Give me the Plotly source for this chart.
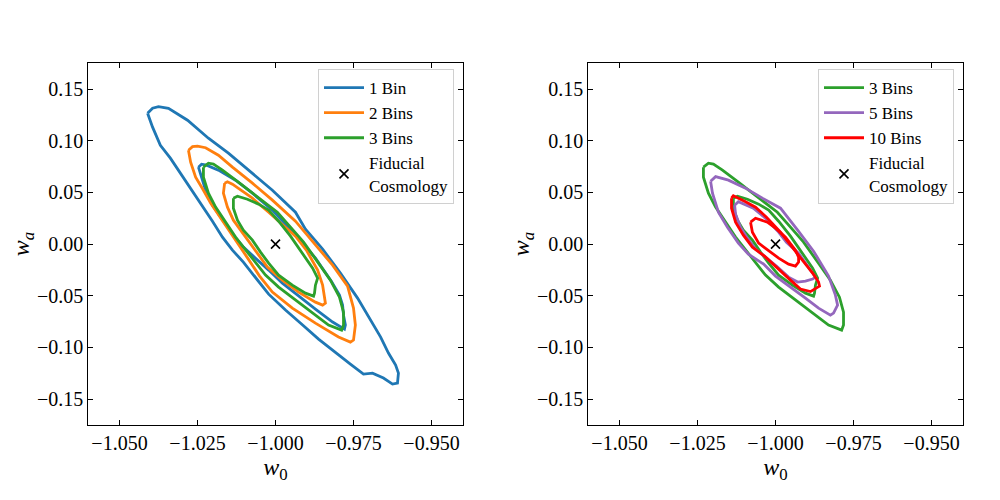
import plotly.graph_objects as go

# ---------------- data (w0, wa) ----------------
# Left panel
bin1_outer_w0 = [-1.0410, -1.0394, -1.0375, -1.0343, -1.0282, -1.0215, -1.0151, -1.0074, -1.0010, -0.9936,
                 -0.9904, -0.9849, -0.9792, -0.9737, -0.9699, -0.9663, -0.9638, -0.9615, -0.9606, -0.9609,
                 -0.9625, -0.9654, -0.9689, -0.9718, -0.9760, -0.9814, -0.9862, -0.9913, -0.9968, -1.0022,
                 -1.0064, -1.0103, -1.0138, -1.0170, -1.0202, -1.0247, -1.0285, -1.0311, -1.0337, -1.0369,
                 -1.0394]
bin1_outer_wa = [0.1267, 0.1315, 0.1330, 0.1315, 0.1199, 0.1025, 0.0880, 0.0687, 0.0522, 0.0309,
                 0.0145, -0.0048, -0.0280, -0.0522, -0.0716, -0.0899, -0.1054, -0.1170, -0.1248, -0.1344,
                 -0.1354, -0.1296, -0.1248, -0.1257, -0.1161, -0.1035, -0.0919, -0.0783, -0.0638, -0.0484,
                 -0.0319, -0.0174, -0.0058, 0.0068, 0.0222, 0.0426, 0.0600, 0.0716, 0.0832, 0.0957,
                 0.1132]

bin1_inner_w0 = [-1.0247, -1.0237, -1.0221, -1.0183, -1.0128, -1.0074, -1.0010, -0.9965, -0.9923, -0.9872,
                 -0.9821, -0.9795, -0.9785, -0.9782, -0.9776, -0.9779, -0.9817, -0.9872, -0.9926, -0.9978,
                 -1.0022, -1.0064, -1.0103, -1.0138, -1.0170, -1.0202, -1.0224, -1.0240]
bin1_inner_wa = [0.0745, 0.0774, 0.0764, 0.0716, 0.0619, 0.0493, 0.0329, 0.0184, 0.0048, -0.0135,
                 -0.0358, -0.0493, -0.0590, -0.0687, -0.0783, -0.0822, -0.0754, -0.0629, -0.0503, -0.0377,
                 -0.0251, -0.0135, -0.0029, 0.0097, 0.0232, 0.0377, 0.0522, 0.0677]

bin2_outer_w0 = [-1.0279, -1.0266, -1.0250, -1.0224, -1.0183, -1.0138, -1.0074, -1.0010, -0.9936, -0.9872,
                 -0.9817, -0.9769, -0.9750, -0.9744, -0.9750, -0.9760, -0.9798, -0.9872, -0.9946, -1.0010,
                 -1.0051, -1.0087, -1.0119, -1.0151, -1.0183, -1.0208, -1.0231, -1.0256, -1.0272]
bin2_outer_wa = [0.0909, 0.0943, 0.0948, 0.0933, 0.0861, 0.0745, 0.0590, 0.0426, 0.0222, -0.0010,
                 -0.0203, -0.0406, -0.0619, -0.0783, -0.0928, -0.0948, -0.0899, -0.0764, -0.0619, -0.0464,
                 -0.0309, -0.0145, 0.0000, 0.0135, 0.0280, 0.0397, 0.0522, 0.0648, 0.0793]

bin2_inner_w0 = [-1.0163, -1.0154, -1.0138, -1.0106, -1.0074, -1.0022, -0.9968, -0.9936, -0.9901, -0.9865,
                 -0.9849, -0.9840, -0.9849, -0.9872, -0.9926, -0.9978, -1.0026, -1.0054, -1.0080, -1.0106,
                 -1.0135, -1.0154, -1.0167]
bin2_inner_wa = [0.0590, 0.0604, 0.0580, 0.0513, 0.0445, 0.0309, 0.0164, 0.0077, -0.0058, -0.0251,
                 -0.0397, -0.0571, -0.0590, -0.0561, -0.0464, -0.0348, -0.0222, -0.0106, 0.0010, 0.0116,
                 0.0232, 0.0358, 0.0493]

# 3 bins (shared by both panels)
bin3_outer_w0 = [-1.0231, -1.0215, -1.0199, -1.0170, -1.0119, -1.0064, -0.9994, -0.9952, -0.9910, -0.9869,
                 -0.9824, -0.9795, -0.9782, -0.9782, -0.9788, -0.9830, -0.9881, -0.9936, -0.9990, -1.0032,
                 -1.0064, -1.0096, -1.0128, -1.0160, -1.0192, -1.0215, -1.0231]
bin3_outer_wa = [0.0745, 0.0783, 0.0774, 0.0716, 0.0600, 0.0474, 0.0309, 0.0164, 0.0019, -0.0155,
                 -0.0348, -0.0513, -0.0658, -0.0783, -0.0832, -0.0783, -0.0667, -0.0542, -0.0416, -0.0300,
                 -0.0174, -0.0048, 0.0068, 0.0213, 0.0358, 0.0493, 0.0648]

bin3_inner_w0 = [-1.0135, -1.0122, -1.0090, -1.0054, -1.0022, -0.9990, -0.9952, -0.9913, -0.9881, -0.9865,
                 -0.9872, -0.9875, -0.9878, -0.9904, -0.9946, -0.9990, -1.0022, -1.0048, -1.0074, -1.0103,
                 -1.0122, -1.0135]
bin3_inner_wa = [0.0445, 0.0464, 0.0435, 0.0387, 0.0329, 0.0222, 0.0077, -0.0097, -0.0232, -0.0329,
                 -0.0397, -0.0474, -0.0503, -0.0474, -0.0397, -0.0300, -0.0184, -0.0077, 0.0039, 0.0135,
                 0.0232, 0.0348]

# Right panel
bin5_outer_w0 = [-1.0208, -1.0192, -1.0151, -1.0096, -1.0042, -0.9984, -0.9929, -0.9878, -0.9830, -0.9808,
                 -0.9801, -0.9814, -0.9824, -0.9862, -0.9904, -0.9952, -1.0000, -1.0038, -1.0087, -1.0119,
                 -1.0154, -1.0183, -1.0202]
bin5_outer_wa = [0.0609, 0.0653, 0.0619, 0.0542, 0.0445, 0.0348, 0.0135, -0.0068, -0.0309, -0.0493,
                 -0.0590, -0.0667, -0.0687, -0.0619, -0.0522, -0.0416, -0.0309, -0.0193, -0.0097, 0.0010,
                 0.0164, 0.0309, 0.0493]

bin5_inner_w0 = [-1.0131, -1.0119, -1.0071, -1.0032, -0.9990, -0.9965, -0.9926, -0.9894, -0.9872, -0.9881,
                 -0.9904, -0.9929, -0.9958, -0.9997, -1.0032, -1.0064, -1.0090, -1.0112, -1.0128]
bin5_inner_wa = [0.0377, 0.0411, 0.0348, 0.0251, 0.0116, 0.0019, -0.0087, -0.0232, -0.0319, -0.0338,
                 -0.0358, -0.0367, -0.0319, -0.0213, -0.0126, -0.0048, 0.0058, 0.0164, 0.0290]

bin10_outer_w0 = [-1.0141, -1.0135, -1.0096, -1.0064, -1.0029, -0.9984, -0.9929, -0.9881, -0.9862, -0.9859,
                  -0.9888, -0.9920, -0.9952, -0.9990, -1.0035, -1.0074, -1.0103, -1.0128, -1.0141]
bin10_outer_wa = [0.0445, 0.0469, 0.0411, 0.0358, 0.0261, 0.0116, -0.0097, -0.0280, -0.0367, -0.0406,
                  -0.0459, -0.0435, -0.0348, -0.0242, -0.0116, -0.0029, 0.0087, 0.0213, 0.0348]

bin10_inner_w0 = [-1.0080, -1.0064, -1.0026, -1.0000, -0.9968, -0.9936, -0.9926, -0.9926, -0.9936, -0.9958,
                  -0.9990, -1.0022, -1.0054, -1.0074]
bin10_inner_wa = [0.0213, 0.0251, 0.0213, 0.0155, 0.0068, -0.0058, -0.0126, -0.0174, -0.0213, -0.0193,
                  -0.0135, -0.0058, 0.0010, 0.0116]

fiducial_w0 = [-1.0]
fiducial_wa = [0.0]

x_ticks = [-1.05, -1.025, -1.0, -0.975, -0.95]
y_ticks = [-0.15, -0.10, -0.05, 0.0, 0.05, 0.10, 0.15]

# ---------------- figure ----------------
FONT = "Liberation Serif"
BLUE, ORANGE, GREEN, PURPLE, RED = "#1f77b4", "#ff7f0e", "#2ca02c", "#9467bd", "#ff0000"
LW = 2.8

fig = go.Figure()


def add_contour(w0, wa, color, name, ax, legend, show):
    fig.add_trace(go.Scatter(
        x=list(w0) + [w0[0]], y=list(wa) + [wa[0]], mode="lines",
        line=dict(color=color, width=LW), name=name, legendgroup=legend + name,
        showlegend=show, legend=legend, xaxis="x" + ax, yaxis="y" + ax,
        hoverinfo="skip"))


def add_fid(ax, legend):
    fig.add_trace(go.Scatter(
        x=fiducial_w0, y=fiducial_wa, mode="markers", name="Fiducial<br>Cosmology",
        legendgroup=legend + "fid",
        marker=dict(symbol="x-thin", size=9, color="black", line=dict(width=1.6, color="black")),
        legend=legend, xaxis="x" + ax, yaxis="y" + ax))


# left panel
add_contour(bin1_outer_w0, bin1_outer_wa, BLUE, "1 Bin", "", "legend", True)
add_contour(bin1_inner_w0, bin1_inner_wa, BLUE, "1 Bin", "", "legend", False)
add_contour(bin2_outer_w0, bin2_outer_wa, ORANGE, "2 Bins", "", "legend", True)
add_contour(bin2_inner_w0, bin2_inner_wa, ORANGE, "2 Bins", "", "legend", False)
add_contour(bin3_outer_w0, bin3_outer_wa, GREEN, "3 Bins", "", "legend", True)
add_contour(bin3_inner_w0, bin3_inner_wa, GREEN, "3 Bins", "", "legend", False)
add_fid("", "legend")

# right panel
add_contour(bin3_outer_w0, bin3_outer_wa, GREEN, "3 Bins", "2", "legend2", True)
add_contour(bin3_inner_w0, bin3_inner_wa, GREEN, "3 Bins", "2", "legend2", False)
add_contour(bin5_outer_w0, bin5_outer_wa, PURPLE, "5 Bins", "2", "legend2", True)
add_contour(bin5_inner_w0, bin5_inner_wa, PURPLE, "5 Bins", "2", "legend2", False)
add_contour(bin10_outer_w0, bin10_outer_wa, RED, "10 Bins", "2", "legend2", True)
add_contour(bin10_inner_w0, bin10_inner_wa, RED, "10 Bins", "2", "legend2", False)
add_fid("2", "legend2")

tickfont = dict(family=FONT, size=20, color="black")
titlefont = dict(family=FONT, size=24, color="black")


def xax(domain, anchor):
    return dict(domain=domain, anchor=anchor, range=[-1.06, -0.94], tickvals=x_ticks,
                tickformat=".3f", ticks="inside", ticklen=5, tickwidth=1, tickcolor="black",
                mirror="allticks", showline=True, linecolor="black", linewidth=1,
                showgrid=False, zeroline=False, tickfont=tickfont,
                title=dict(text="<i>w</i><sub>0</sub>", font=titlefont, standoff=4))


def yax(domain, anchor):
    return dict(domain=domain, anchor=anchor, range=[-0.175, 0.175], tickvals=y_ticks,
                tickformat=".2f", ticks="inside", ticklen=5, tickwidth=1, tickcolor="black",
                mirror="allticks", showline=True, linecolor="black", linewidth=1,
                showgrid=False, zeroline=False, tickfont=tickfont,
                title=dict(text="<i>w</i><sub><i>a</i></sub>", font=titlefont, standoff=0))


ydom = [0.15, 0.8734]
legend_style = dict(yanchor="top", xanchor="right", bgcolor="white", bordercolor="#d0d0d0",
                    borderwidth=1, font=dict(family=FONT, size=17, color="black"),
                    itemwidth=40, tracegroupgap=0)

fig.update_layout(
    width=1000, height=500, margin=dict(l=0, r=0, t=0, b=0),
    paper_bgcolor="white", plot_bgcolor="white",
    font=dict(family=FONT, color="black"),
    xaxis=xax([0.0883, 0.4627], "y"), yaxis=yax(ydom, "x"),
    xaxis2=xax([0.5883, 0.9627], "y2"), yaxis2=yax(ydom, "x2"),
    legend=dict(x=0.454, y=0.862, **legend_style),
    legend2=dict(x=0.954, y=0.862, **legend_style),
    showlegend=True,
)

fig.write_html("out.html")
